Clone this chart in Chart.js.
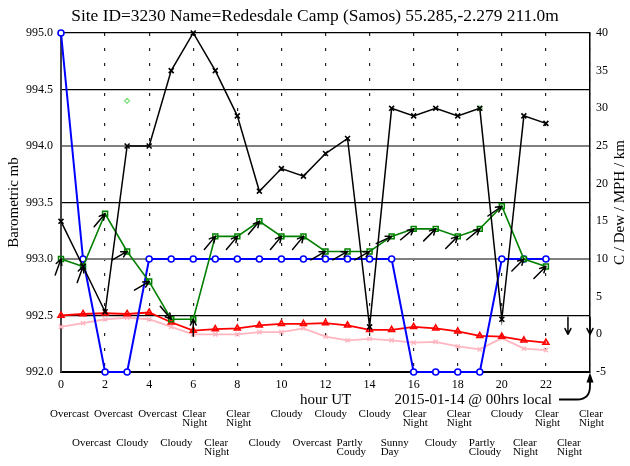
<!DOCTYPE html>
<html><head><meta charset="utf-8">
<script src="https://cdn.jsdelivr.net/npm/chart.js@4"></script>
<style>html,body{margin:0;padding:0;background:#fff}#wrap{width:630px;height:466px}</style>
</head><body><div id="wrap"><canvas id="c" width="630" height="466"></canvas></div>
<script>
// ---- data ----
const titleText = 'Site ID=3230 Name=Redesdale Camp (Samos) 55.285,-2.279 211.0m';
const hours = [0,1,2,3,4,5,6,7,8,9,10,11,12,13,14,15,16,17,18,19,20,21,22];
const pressure = [995,993,992,992,993,993,993,993,993,993,993,993,993,993,993,993,992,992,992,992,993,993,993];
const visibility = [15,9,3,25,25,35,40,35,29,19,22,21,24,26,1,30,29,30,29,30,2,29,28];
const windSpeed = [10,9,16,11,7,2,2,13,13,15,13,13,11,11,11,13,14,14,13,14,17,10,9];
const temperature = [2.5,2.7,2.8,2.7,2.9,1.6,0.5,0.7,0.8,1.2,1.4,1.4,1.5,1.2,0.6,0.6,1.0,0.8,0.4,-0.2,-0.3,-0.8,-1.1];
const dewPoint = [1.0,1.5,2.0,2.2,2.0,1.0,0.0,0.0,0.0,0.3,0.3,0.8,-0.3,-0.8,-0.6,-0.8,-1.1,-1.0,-1.6,-2.0,-0.5,-1.9,-2.1];
const gustMarks = [null,null,null,31,null,null,null,null,null,null,null,null,null,null,null,null,null,null,null,30,null,null,null];
const windHours = [0,1,2,3,4,5,6,7,8,9,10,11,12,13,14,15,16,17,18,19,20,21,22,23,24];
const windDirection = [200,200,220,240,240,320,180,220,220,220,220,220,240,240,240,245,230,225,225,230,235,225,225,0,0];
const calmSpeed = 0;
const weatherHours = [0,1,2,3,4,5,6,7,8,9,10,11,12,13,14,15,16,17,18,19,20,21,22,23,24];
const weather = ['Overcast','Overcast','Overcast','Cloudy','Overcast','Cloudy','Clear Night','Clear Night','Clear Night','Cloudy','Cloudy','Overcast','Cloudy','Partly Coudy','Cloudy','Sunny Day','Clear Night','Cloudy','Clear Night','Partly Cloudy','Cloudy','Clear Night','Clear Night','Clear Night','Clear Night'];
const hourTicks = [0,2,4,6,8,10,12,14,16,18,20,22,24];
const hourTickLabels = ['0','2','4','6','8','10','12','14','16','18','20','22',''];
const leftTitle = 'Barometric mb';
const rightTitle = 'C / Dew / MPH / km';
const xTitle = 'hour UT';
const localNote = '2015-01-14 @ 00hrs local';
const localHour = 24;

// ---- chart ----
const serif = "'Liberation Serif','Times New Roman',serif";
const pts = arr => hours.map((h, i) => ({x: h, y: arr[i]}));

const extras = {
  id: 'extras',
  afterDatasetsDraw(chart) {
    const {ctx, scales: {x, y2}} = chart;
    ctx.save();
    ctx.strokeStyle = '#000';
    ctx.lineWidth = 1.5;
    ctx.lineCap = 'round';
    const L = 17, H = 6.5, a = 27 * Math.PI / 180;
    windDirection.forEach((dir, i) => {
      const spd = i < windSpeed.length ? windSpeed[i] : calmSpeed;
      const tx = x.getPixelForValue(windHours[i]);
      const ty = y2.getPixelForValue(spd);
      const b = ((dir + 180) % 360) * Math.PI / 180;
      const ux = Math.sin(b), uy = -Math.cos(b);
      ctx.beginPath();
      ctx.moveTo(tx - L * ux, ty - L * uy);
      ctx.lineTo(tx, ty);
      for (const s of [a, -a]) {
        const bx = -ux, by = -uy;
        const rx = bx * Math.cos(s) - by * Math.sin(s);
        const ry = bx * Math.sin(s) + by * Math.cos(s);
        ctx.moveTo(tx, ty);
        ctx.lineTo(tx + H * rx, ty + H * ry);
      }
      ctx.stroke();
    });
    ctx.restore();
  },
  afterDraw(chart) {
    const {ctx, chartArea: ca, scales: {x}} = chart;
    ctx.save();
    ctx.fillStyle = '#000';
    ctx.strokeStyle = '#000';
    // axis titles
    ctx.font = '15px ' + serif;
    ctx.textAlign = 'center';
    ctx.textBaseline = 'middle';
    const midY = (ca.top + ca.bottom) / 2;
    ctx.save(); ctx.translate(14, midY); ctx.rotate(-Math.PI / 2); ctx.fillText(leftTitle, 0, 0); ctx.restore();
    ctx.save(); ctx.translate(620, midY); ctx.rotate(-Math.PI / 2); ctx.fillText(rightTitle, 0, 0); ctx.restore();
    ctx.fillText(xTitle, (ca.left + ca.right) / 2, ca.bottom + 28);
    // local midnight note with arrow
    const xl = x.getPixelForValue(localHour);
    ctx.textAlign = 'right';
    ctx.fillText(localNote, xl - 38, ca.bottom + 28);
    ctx.lineWidth = 1.8;
    ctx.beginPath();
    ctx.moveTo(xl - 31, ca.bottom + 27.5);
    ctx.lineTo(xl - 13, ca.bottom + 27.5);
    ctx.quadraticCurveTo(xl, ca.bottom + 27.5, xl, ca.bottom + 14);
    ctx.lineTo(xl, ca.bottom + 9);
    ctx.stroke();
    ctx.beginPath();
    ctx.moveTo(xl, ca.bottom + 0.5);
    ctx.lineTo(xl - 3.5, ca.bottom + 10.5);
    ctx.lineTo(xl + 3.5, ca.bottom + 10.5);
    ctx.closePath();
    ctx.fill();
    // weather labels
    ctx.font = '11px ' + serif;
    ctx.textAlign = 'left';
    weather.forEach((w, i) => {
      const h = weatherHours[i];
      const px = x.getPixelForValue(h) - 11;
      const base = ca.bottom + (h % 2 === 0 ? 42 : 71);
      w.split(' ').forEach((line, k) => ctx.fillText(line, px, base + k * 9));
    });
    ctx.restore();
  }
};

new Chart(document.getElementById('c'), {
  type: 'line',
  data: {
    datasets: [
      {data: pts(visibility), yAxisID: 'y2', borderColor: '#000', borderWidth: 1.5, pointStyle: 'crossRot', pointRadius: 3.5, pointBorderColor: '#000', pointBorderWidth: 1.6, order: 0, clip: false},
      {data: pts(gustMarks), yAxisID: 'y2', showLine: false, pointStyle: 'rectRot', pointRadius: 2.5, pointBorderColor: '#80e080', pointBackgroundColor: 'rgba(0,0,0,0)', pointBorderWidth: 1.2, order: 1, clip: false},
      {data: pts(windSpeed), yAxisID: 'y2', borderColor: '#008000', borderWidth: 1.6, pointStyle: 'rect', pointRadius: 3.5, pointBorderColor: '#008000', pointBackgroundColor: 'rgba(0,0,0,0)', pointBorderWidth: 1.5, order: 2, clip: false},
      {data: pts(pressure), yAxisID: 'y', borderColor: '#0000ff', borderWidth: 2, pointStyle: 'circle', pointRadius: 3, pointBorderColor: '#0000ff', pointBackgroundColor: '#fff', pointBorderWidth: 1.6, order: 3, clip: false},
      {data: pts(temperature), yAxisID: 'y2', borderColor: '#ff0000', borderWidth: 1.8, pointStyle: 'triangle', pointRadius: 3.5, pointBorderColor: '#ff0000', pointBackgroundColor: 'rgba(255,0,0,0.3)', pointBorderWidth: 1.5, order: 4, clip: false},
      {data: pts(dewPoint), yAxisID: 'y2', borderColor: '#ffb6c1', borderWidth: 1.8, pointStyle: 'crossRot', pointRadius: 3, pointBorderColor: '#ffb6c1', pointBorderWidth: 1.4, order: 5, clip: false}
    ]
  },
  options: {
    responsive: false,
    animation: false,
    devicePixelRatio: 1,
    layout: {padding: 0},
    plugins: {
      legend: {display: false},
      tooltip: {enabled: false},
      title: {display: true, text: titleText, color: '#000', font: {family: serif, size: 17.4, weight: 'normal'}, padding: {top: 6, bottom: 6.1}}
    },
    scales: {
      x: {
        type: 'linear', min: 0, max: 24,
        afterBuildTicks: s => { s.ticks = hourTicks.map(v => ({value: v})); },
        ticks: {callback: (v, i) => hourTickLabels[i], color: '#000', font: {family: serif, size: 12}, padding: 6, maxRotation: 0, autoSkip: false},
        grid: {color: '#222', lineWidth: 1.2, drawTicks: false},
        border: {color: '#000', width: 2, dash: [3, 12]},
        afterFit: s => { s.height = 94; }
      },
      y: {
        position: 'left', min: 992, max: 995,
        ticks: {stepSize: 0.5, callback: v => Number(v).toFixed(1), color: '#000', font: {family: serif, size: 12}, padding: 8},
        grid: {
          drawTicks: false,
          color: c => { const v = c.tick.value; return (Math.abs(v - Math.round(v)) < 1e-6 && v > 992 && v < 995) ? '#808080' : '#000'; },
          lineWidth: c => { const v = c.tick.value; return (Math.abs(v - Math.round(v)) < 1e-6 && v > 992 && v < 995) ? 2 : 1.2; }
        },
        border: {color: '#444', width: 2},
        afterFit: s => { s.width = 61; }
      },
      y2: {
        position: 'right', min: -5, max: 40,
        ticks: {stepSize: 5, color: '#000', font: {family: serif, size: 12}, padding: 6},
        grid: {drawOnChartArea: false, drawTicks: false},
        border: {color: '#000', width: 1.5},
        afterFit: s => { s.width = 40; }
      }
    }
  },
  plugins: [extras]
});
</script>
</body></html>
